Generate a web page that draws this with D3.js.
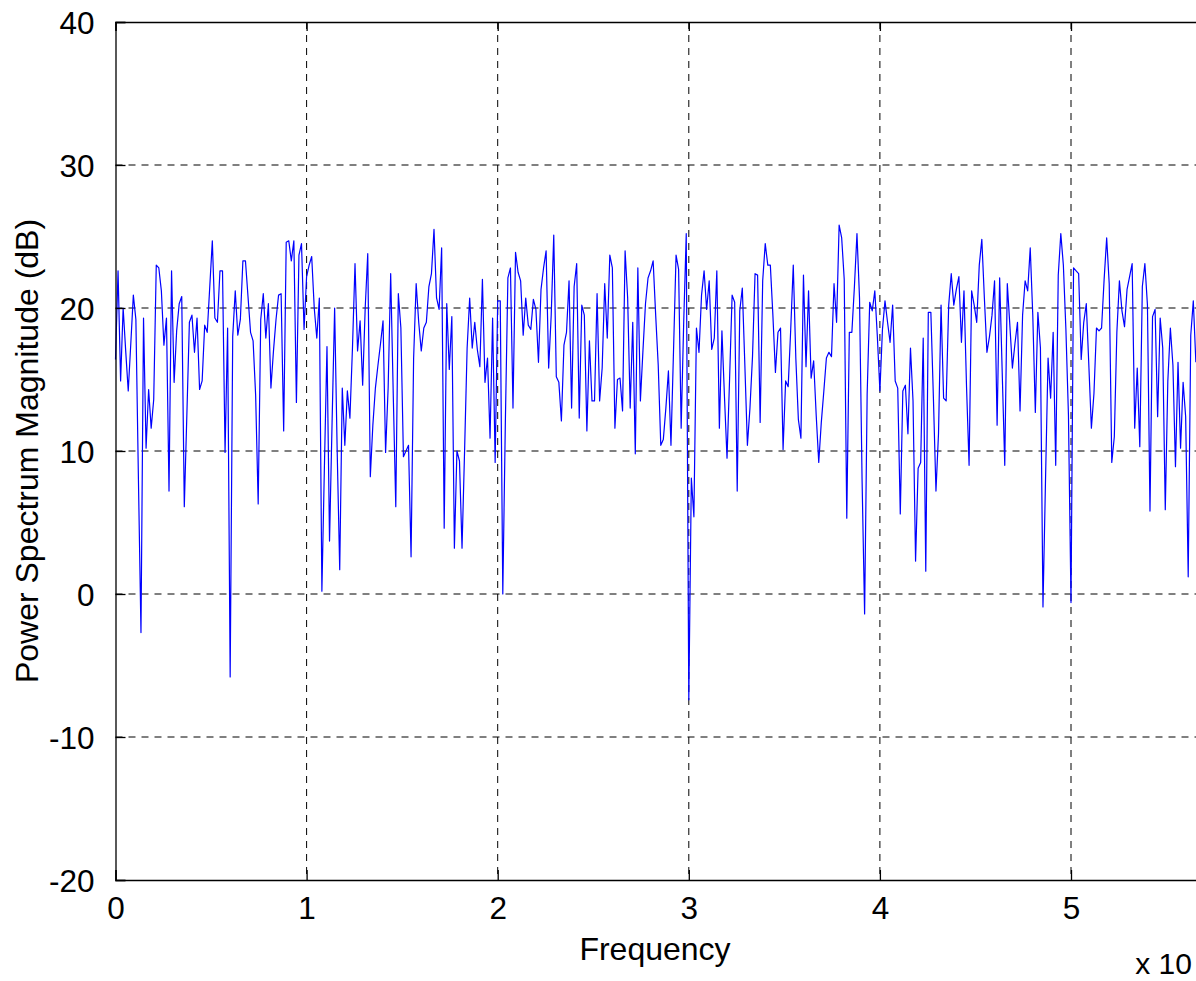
<!DOCTYPE html>
<html>
<head>
<meta charset="utf-8">
<script src="https://cdn.jsdelivr.net/npm/d3@7"></script>
<style>
  body { margin: 0; background: #fff; }
  svg { display: block; }
  text { font-family: "Liberation Sans", Arial, sans-serif; fill: #000; }
</style>
</head>
<body>
<script>
// power spectrum magnitude (dB), one value per frequency bin
var powerDb = [
  16.4, 22.6, 14.9, 20.0, 17.0, 14.2, 17.5, 20.9, 19.2, 8.0, -2.7, 19.3, 10.2, 14.3, 11.6, 13.6,
  23.0, 22.8, 21.2, 17.4, 19.3, 7.2, 22.6, 14.8, 18.4, 20.3, 20.8, 6.1,
  12.5, 19.0, 19.5, 16.9, 19.3, 14.3, 14.9, 18.8, 18.3, 21.5, 24.7,
  19.3, 19.0, 22.6, 22.6, 9.9, 18.6, -5.8,
  18.0, 21.2, 18.1, 19.2, 23.3, 23.3, 20.8, 18.3, 17.7, 13.9, 6.3,
  19.2, 21.0, 17.9, 20.3, 14.4, 17.0, 19.2, 20.9, 21.0, 11.4, 24.6,
  24.7, 23.3, 24.7, 13.4, 23.7,
  24.5, 18.5, 22.2, 23.0, 23.6, 20.0,
  17.9, 20.7, 0.2,
  9.0, 17.3, 3.7, 12.0, 20.0, 10.0, 1.7, 14.4, 10.4, 14.2, 12.3, 17.2, 23.1, 17.0, 19.1, 14.6,
  20.0, 23.8, 8.2, 11.8, 14.4, 16.0, 17.5,
  19.1, 9.9, 14.4, 22.4, 14.0, 6.1, 21.0, 18.6, 9.6, 10.0, 10.4, 2.6, 16.5, 21.7, 19.0, 17.0, 18.6, 19.0,
  21.5, 22.4, 25.5, 20.7, 19.9, 24.2, 4.6, 20.3, 15.7, 19.4, 3.2, 10.0, 9.3, 3.2, 10.0, 17.2,
  20.7, 17.2, 19.0, 17.1, 15.9, 22.0, 14.8, 16.5, 10.9, 19.3,
  9.2, 20.5, 20.5, 0.0, 12.0, 22.1, 22.8, 13.0, 23.9, 22.5, 21.9, 18.1, 20.7, 18.8, 18.5, 20.6, 19.9, 16.2,
  21.3, 22.8, 24.0, 15.8, 19.5, 25.1, 15.2, 14.8, 12.1, 17.4, 18.3, 21.9, 13.0, 21.5, 23.1, 12.3,
  20.2, 19.5, 11.4, 17.7, 13.5, 13.5, 21.0, 13.5, 15.8, 21.7, 17.9, 23.7, 22.8, 11.6, 15.0, 15.1,
  12.8, 24.0, 20.7, 13.0, 19.0, 9.8, 22.8, 13.5, 17.0, 20.3,
  22.1, 22.6, 23.3, 19.5, 16.0, 10.4, 10.8, 13.0, 15.6, 10.4, 17.0, 23.7, 22.7, 11.6, 19.0, 25.2,
  -7.4, 8.1, 5.4, 18.6, 16.9, 20.9, 22.6, 19.9, 21.9, 17.1, 17.9, 22.6, 11.6, 18.4, 13.8, 9.5,
  15.0, 20.9, 20.4, 7.2, 19.8, 21.4, 16.0, 10.4, 13.0, 16.6, 22.4, 22.3,
  12.0, 21.9, 24.5, 23.0, 23.0, 19.5, 15.5, 18.3, 18.6, 10.1, 14.9, 14.5, 18.5, 23.0, 16.5, 12.2,
  10.9, 22.3, 15.9, 21.2, 15.1, 16.3, 12.5, 9.2, 12.0, 14.2, 16.5, 16.9, 16.6, 21.7, 19.0, 25.8,
  24.9, 22.0, 5.3, 18.3, 18.3, 21.5, 25.2, 20.7, 8.0, -1.4, 14.0,
  20.4, 19.8, 21.2, 18.0, 14.2, 18.5, 20.5, 19.0, 17.6, 20.2, 14.9, 14.4, 5.6, 14.2, 14.6, 11.2,
  17.2, 13.5, 2.3, 8.8, 9.2, 17.9, 1.6, 19.7, 19.7, 13.7, 7.2, 11.2, 20.2, 13.7, 13.5, 20.2,
  22.4, 20.2, 21.3, 22.2, 17.6, 21.2, 14.5, 9.0, 21.2, 20.2, 19.0,
  23.0, 24.8, 20.7, 16.9, 18.0, 19.5, 21.9, 11.8, 22.1, 15.5, 9.0, 21.7, 18.8, 15.8, 17.5, 19.0,
  12.8, 19.5, 21.9, 21.2, 24.2, 19.5, 12.7, 19.7, 17.2, -0.9, 8.0, 16.5, 13.7, 18.3, 9.0, 22.3,
  25.2, 23.0, 18.5, 12.5, -0.6, 22.8, 22.6, 22.4, 16.4, 19.0, 20.3,
  16.0, 11.6, 14.0, 18.6, 18.4, 18.6, 22.0, 24.9, 21.7, 9.2, 11.0, 18.3, 21.9, 19.8, 18.7, 21.3,
  22.2, 23.1, 11.6, 15.8, 10.3, 21.5, 23.1, 20.2, 5.8, 19.4, 19.9, 12.4, 19.3, 17.2, 5.9, 14.9,
  18.6, 16.0, 8.9, 16.2, 10.2, 14.8, 12.4, 1.2, 18.1, 20.5, 16.2
];

// frequency spacing between bins (axis units, x 10^4)
var freqStep = 1 / 75;

var xTicks = [0, 1, 2, 3, 4, 5];
var yTicks = [-20, -10, 0, 10, 20, 30, 40];

var width = 1196,
    height = 981;

var svg = d3.select("body")
    .append("svg")
    .attr("width", width)
    .attr("height", height);

// axis box runs past the right edge of the picture (cropped figure)
var x = d3.scaleLinear()
    .domain([0, 6])
    .range([115.5, 1262.1]);

var y = d3.scaleLinear()
    .domain([-20, 40])
    .range([880, 22]);

// plain hyphen for negatives, like the original
var fmt = function(d) { return String(d); };

// dashed grid
var grid = svg.append("g")
    .attr("stroke", "#000")
    .attr("stroke-width", 1)
    .attr("stroke-dasharray", "7,6");

grid.selectAll("line.h")
    .data(yTicks.filter(function(d) { return d > -20 && d < 40; }))
    .enter().append("line")
        .attr("class", "h")
        .attr("x1", x(0))
        .attr("x2", x(6))
        .attr("y1", function(d) { return y(d); })
        .attr("y2", function(d) { return y(d); });

grid.selectAll("line.v")
    .data(xTicks.filter(function(d) { return d > 0; }))
    .enter().append("line")
        .attr("class", "v")
        .attr("x1", function(d) { return x(d); })
        .attr("x2", function(d) { return x(d); })
        .attr("y1", y(40))
        .attr("y2", y(-20));

// spectrum trace
var line = d3.line()
    .x(function(d, i) { return x(i * freqStep); })
    .y(function(d) { return y(d); });

svg.append("path")
    .datum(powerDb)
    .attr("fill", "none")
    .attr("stroke", "#0000ff")
    .attr("stroke-width", 1.2)
    .attr("stroke-linejoin", "round")
    .attr("d", line);

// axes (MATLAB style: ticks inside, box on)
var xAxis = svg.append("g")
    .attr("transform", "translate(0," + y(-20) + ")")
    .call(d3.axisBottom(x).tickValues(xTicks).tickSize(-10).tickPadding(17).tickFormat(fmt));

var yAxis = svg.append("g")
    .attr("transform", "translate(" + x(0) + ",0)")
    .call(d3.axisLeft(y).tickValues(yTicks).tickSize(-10).tickPadding(21).tickFormat(fmt));

var topAxis = svg.append("g")
    .attr("transform", "translate(0," + y(40) + ")")
    .call(d3.axisTop(x).tickValues(xTicks).tickSize(-9).tickFormat(""));

[xAxis, yAxis, topAxis].forEach(function(a) {
    a.select(".domain").attr("stroke", "#000").attr("stroke-width", 1.3);
    a.selectAll(".tick line").attr("stroke", "#000").attr("stroke-width", 1.3);
    a.selectAll(".tick text")
        .attr("font-family", "'Liberation Sans', Arial, sans-serif")
        .attr("font-size", 31.5)
        .attr("fill", "#000");
});
yAxis.selectAll(".tick text").attr("dy", "0.36em");

// labels
svg.append("text")
    .attr("x", 655)
    .attr("y", 960)
    .attr("text-anchor", "middle")
    .attr("font-size", 32)
    .text("Frequency");

svg.append("text")
    .attr("transform", "translate(38," + y(10) + ") rotate(-90)")
    .attr("text-anchor", "middle")
    .attr("font-size", 32)
    .text("Power Spectrum Magnitude (dB)");

svg.append("text")
    .attr("x", 1192)
    .attr("y", 974)
    .attr("text-anchor", "end")
    .attr("font-size", 30)
    .text("x 10");
</script>
</body>
</html>
